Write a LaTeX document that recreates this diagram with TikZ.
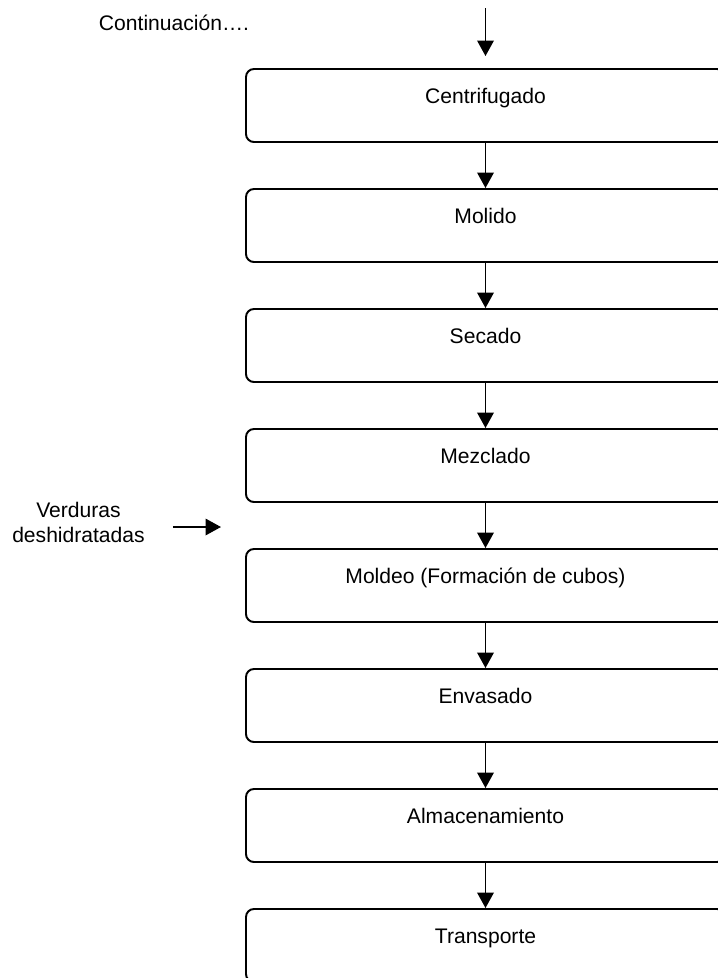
\documentclass[tikz,border=0pt]{standalone}
\usepackage{fontspec}
\setmainfont{Liberation Sans}
\usetikzlibrary{arrows.meta,positioning}

\begin{document}
\begin{tikzpicture}[
    font=\fontsize{12}{14.3}\selectfont,
    box/.style={draw=black, fill=white, rounded corners=4.5pt, line width=1.1pt,
                minimum width=9.58cm, minimum height=1.46cm, inner sep=0pt,
                text height=0.35cm, text depth=0.43cm},
    flowarrow/.style={-{Triangle[length=3.1mm,width=3.3mm]}, draw=black, line width=1.1pt}
]
\useasboundingbox (0,0) rectangle (14.36,-19.56);

\node[anchor=base] (cont) at (3.48,-0.60) {Continuación….};
\coordinate (contStart) at (9.71,-0.16);

\node[box] (centri) at (9.71,-2.11) {Centrifugado};
\node[box] (molido) at (9.71,-4.51) {Molido};
\node[box] (secado) at (9.71,-6.91) {Secado};
\node[box] (mezcla) at (9.71,-9.31) {Mezclado};
\node[box] (moldeo) at (9.71,-11.71) {Moldeo (Formación de cubos)};
\node[box] (envase) at (9.71,-14.11) {Envasado};
\node[box] (almacen) at (9.71,-16.51) {Almacenamiento};
\node[box] (transp) at (9.71,-18.91) {Transporte};

\node[align=center] (verd) at (1.57,-10.45) {Verduras\\deshidratadas};
\coordinate (verdEnd) at (4.42,-10.54);

\draw[flowarrow, shorten >=2.4mm] (contStart) -- (centri.north);
\draw[flowarrow] (centri.south) -- (molido.north);
\draw[flowarrow] (molido.south) -- (secado.north);
\draw[flowarrow] (secado.south) -- (mezcla.north);
\draw[flowarrow] (mezcla.south) -- (moldeo.north);
\draw[flowarrow] (moldeo.south) -- (envase.north);
\draw[flowarrow] (envase.south) -- (almacen.north);
\draw[flowarrow] (almacen.south) -- (transp.north);
\draw[flowarrow, shorten <=4.4mm] (verd.east |- verdEnd) -- (verdEnd);

\end{tikzpicture}
\end{document}
